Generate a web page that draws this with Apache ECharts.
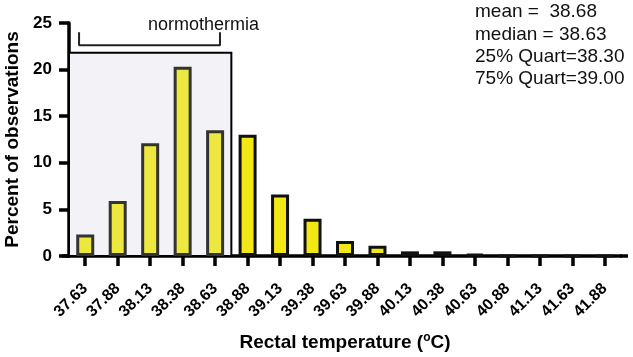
<!DOCTYPE html>
<html>
<head>
<meta charset="utf-8">
<script src="https://cdn.jsdelivr.net/npm/echarts@6/dist/echarts.min.js"></script>
<style>
  html, body { margin: 0; padding: 0; background: #fff; }
  #chart { width: 633px; height: 357px; }
</style>
</head>
<body>
<div id="chart"></div>
<script>
const categories = ["37.63", "37.88", "38.13", "38.38", "38.63", "38.88", "39.13", "39.38", "39.63",
  "39.88", "40.13", "40.38", "40.63", "40.88", "41.13", "41.63", "41.88"];
const percents = [2.3, 5.9, 12.1, 20.3, 13.5, 13.0, 6.6, 4.0, 1.6, 1.1, 0.5, 0.5, 0.2, 0, 0, 0, 0];
const normoCount = 5; // first five bins sit inside the normothermia box
const normoBoxTop = 21.8;
const bracket = [[0.31, 24.0], [0.31, 22.6], [4.65, 22.6], [4.65, 24.0]];
const statsLines = ["mean =  38.68", "median = 38.63", "25% Quart=38.30", "75% Quart=39.00"];

const FONT = '"Liberation Sans", Arial, Helvetica, sans-serif';
const chart = echarts.init(document.getElementById("chart"));

const option = {
  animation: false,
  backgroundColor: "#fff",
  textStyle: { fontFamily: FONT },
  grid: { left: 69, right: 12, top: 23, bottom: 101, outerBoundsMode: "none", containLabel: false },
  xAxis: [
    {
      type: "category",
      data: categories,
      axisLine: { show: true, lineStyle: { color: "#000", width: 3.5 } },
      axisTick: { show: true, alignWithLabel: true, length: 10, lineStyle: { color: "#000", width: 3.5 } },
      axisLabel: {
        rotate: 45, interval: 0, margin: 30,
        color: "#000", fontWeight: "bold", fontSize: 16, fontFamily: FONT
      },
      name: "Rectal temperature ({sup|o}C)",
      nameLocation: "middle",
      nameGap: 76,
      nameTextStyle: {
        color: "#000", fontWeight: "bold", fontSize: 19, fontFamily: FONT,
        rich: { sup: { fontSize: 12, fontWeight: "bold", verticalAlign: "top", padding: [0, 0, 9, 0], color: "#000" } }
      }
    },
    { type: "value", min: 0, max: 17, show: false }
  ],
  yAxis: {
    type: "value",
    min: 0, max: 25, interval: 5,
    offset: 5,
    splitLine: { show: false },
    axisLine: { show: true, lineStyle: { color: "#000", width: 3.5 } },
    axisTick: { show: true, length: 10, lineStyle: { color: "#000", width: 3.5 } },
    axisLabel: { color: "#000", fontWeight: "bold", fontSize: 17, margin: 12, fontFamily: FONT },
    name: "Percent of observations",
    nameLocation: "middle",
    nameGap: 42,
    nameTextStyle: { color: "#000", fontWeight: "bold", fontSize: 19, fontFamily: FONT }
  },
  series: [
    {
      type: "line",
      xAxisIndex: 1,
      data: [],
      silent: true,
      z: 1,
      markArea: {
        silent: true,
        itemStyle: { color: "#f3f3f7", borderColor: "#000", borderWidth: 2 },
        data: [[{ coord: [0, 0] }, { coord: [normoCount, normoBoxTop] }]]
      }
    },
    {
      type: "bar",
      z: 3,
      barWidth: 18,
      data: percents.map((v, i) => ({
        value: v,
        itemStyle: i < normoCount
          ? { color: "#ece840", borderColor: "#333", borderWidth: 3 }
          : { color: "#f2e816", borderColor: "#111", borderWidth: 3 }
      }))
    },
    {
      type: "line",
      xAxisIndex: 1,
      data: bracket,
      symbol: "none",
      clip: false,
      z: 4,
      lineStyle: { color: "#222", width: 2 }
    }
  ],
  graphic: [
    { type: "rect", shape: { x: 62, y: 254.25, width: 8, height: 3.5 }, style: { fill: "#000" }, z: 10 },
    { type: "rect", shape: { x: 620, y: 254.25, width: 8, height: 3.5 }, style: { fill: "#000" }, z: 10 },
    {
      type: "text", left: 148, top: 16,
      style: { text: "normothermia", fill: "#111", font: "18px " + FONT, textAlign: "center" }
    },
    {
      type: "text", left: 475, top: 1,
      style: { text: statsLines.join("\n"), fill: "#111", font: "19px " + FONT, lineHeight: 22.3 }
    }
  ]
};

chart.setOption(option);
</script>
</body>
</html>
